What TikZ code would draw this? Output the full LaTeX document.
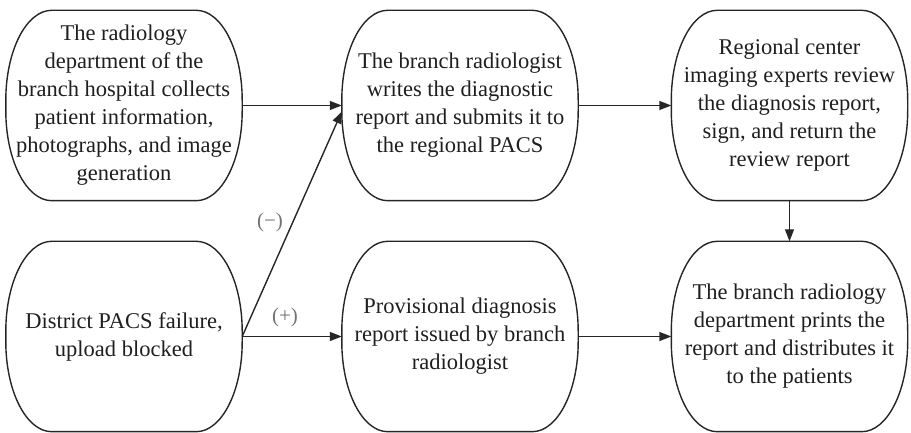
\documentclass[tikz,border=0pt]{standalone}
\usepackage{fontspec}
\setmainfont{Liberation Serif}
\usetikzlibrary{calc,arrows.meta}
\def\blobrx{46pt}
\def\blobry{90pt}
\newcommand\blobdraw[1]{%
  \draw[blobline] ($(#1.north west)+(\blobrx,0)$) -- ($(#1.north east)+(-\blobrx,0)$)
    arc[start angle=90,end angle=0,x radius=\blobrx,y radius=\blobry]
    -- ($(#1.south east)+(0,\blobry)$)
    arc[start angle=0,end angle=-90,x radius=\blobrx,y radius=\blobry]
    -- ($(#1.south west)+(\blobrx,0)$)
    arc[start angle=270,end angle=180,x radius=\blobrx,y radius=\blobry]
    -- ($(#1.north west)+(0,-\blobry)$)
    arc[start angle=180,end angle=90,x radius=\blobrx,y radius=\blobry] -- cycle;}
\begin{document}
\begin{tikzpicture}[x=1pt,y=1pt,
  blobline/.style={line width=1.4pt,draw=black!85},
  box/.style={inner sep=0pt,minimum width=236pt,minimum height=190pt,align=center,
    font=\fontsize{22.5}{28}\selectfont,text=black!88},
  conn/.style={line width=1.4pt,draw=black!85,-{Triangle[length=12pt,width=9pt]}},
  lbl/.style={font=\fontsize{21}{23}\selectfont,text=black!55}]
\useasboundingbox (0,0) rectangle (911,433);
\node[box] (a) at (124,327.5) {The radiology\\department of the\\branch hospital collects\\patient information,\\photographs, and image\\generation};
\node[box] (b) at (460,327.5) {The branch radiologist\\writes the diagnostic\\report and submits it to\\the regional PACS};
\node[box] (c) at (789.5,327.5) {Regional center\\imaging experts review\\the diagnosis report,\\sign, and return the\\review report};
\node[box] (d) at (124,96.5) {District PACS failure,\\upload blocked};
\node[box] (e) at (460,96.5) {Provisional diagnosis\\report issued by branch\\radiologist};
\node[box] (f) at (789.5,96.5) {The branch radiology\\department prints the\\report and distributes it\\to the patients};
\foreach \n in {a,b,c,d,e,f}{\blobdraw{\n}}
\draw[conn] (a.east) -- (b.west);
\draw[conn] (b.east) -- (c.west);
\draw[conn] (c.south) -- (f.north);
\draw[conn] (d.east) -- (e.west);
\draw[conn] (e.east) -- (f.west);
\draw[conn] (d.east) -- ($(b.west)+(0,-6)$);
\node[lbl] (minus) at (270,211) {(−)};
\node[lbl] (plus) at (285,116) {(+)};
\end{tikzpicture}
\end{document}
